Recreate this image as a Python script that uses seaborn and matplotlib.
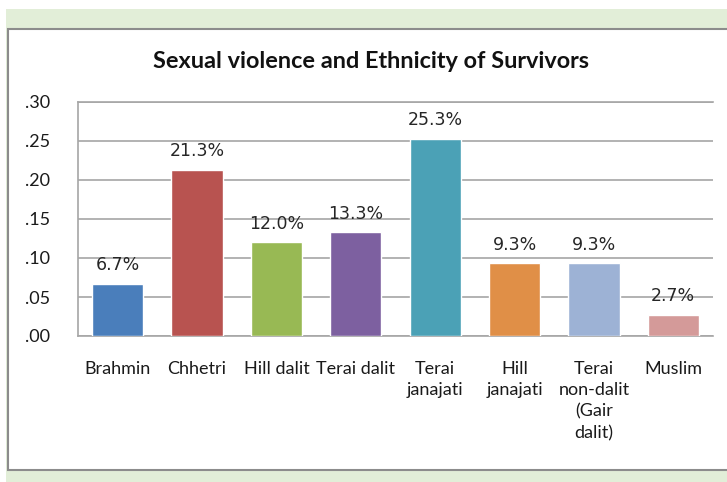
import matplotlib
matplotlib.use("Agg")
import matplotlib.pyplot as plt
import seaborn as sns
import pandas as pd
from matplotlib.patches import Rectangle

categories = ["Brahmin", "Chhetri", "Hill dalit", "Terai dalit",
              "Terai\njanajati", "Hill\njanajati",
              "Terai\nnon-dalit\n(Gair\ndalit)", "Muslim"]
shares = [0.067, 0.213, 0.120, 0.133, 0.253, 0.093, 0.093, 0.027]
bar_colors = ["#4a7ebb", "#b85350", "#98b954", "#7d60a0",
              "#4ba1b6", "#e08f47", "#9db2d5", "#d49a99"]
y_ticks = [0.00, 0.05, 0.10, 0.15, 0.20, 0.25, 0.30]
title = "Sexual violence and Ethnicity of Survivors"

df = pd.DataFrame({"group": categories, "share": shares})

sns.set_style("white")
plt.rcParams["font.family"] = ["Lato", "DejaVu Sans"]

fig = plt.figure(figsize=(7.27, 4.82), dpi=100)
W, H = 727, 482

# page backdrop and chart frame
fig.patches.append(Rectangle((6 / W, 0), 1 - 6 / W, 1 - 9 / H,
                             transform=fig.transFigure, facecolor="#e2eed8",
                             edgecolor="none", zorder=-3))
fig.patches.append(Rectangle((7.5 / W, 12 / H), 1.0, (470 - 28.5) / H,
                             transform=fig.transFigure, facecolor="white",
                             edgecolor="#8c8c8c", linewidth=1.5, zorder=-2))

ax = fig.add_axes([78 / W, 1 - 336 / H, (713 - 78) / W, (336 - 102) / H])
ax.set_facecolor("none")

sns.barplot(data=df, x="group", y="share", hue="group", palette=bar_colors,
            order=categories, hue_order=categories, width=0.645,
            legend=False, ax=ax, saturation=1, zorder=3)

ax.set_ylim(0, 0.30)
ax.set_yticks(y_ticks)
ax.set_yticklabels([f"{t:.2f}".lstrip("0") for t in y_ticks], fontsize=13,
                   color="#1a1a1a")
ax.tick_params(axis="y", length=0, pad=20)
ax.tick_params(axis="x", length=0, pad=18)
for lbl in ax.get_xticklabels():
    lbl.set_fontsize(13)
    lbl.set_color("#1a1a1a")
    lbl.set_verticalalignment("top")
    lbl.set_linespacing(1.4)
ax.set_xlabel("")
ax.set_ylabel("")
ax.grid(axis="y", color="#a6a6a6", linewidth=1.2, zorder=0)
ax.set_axisbelow(True)
for side in ["left", "top", "right", "bottom"]:
    ax.spines[side].set_color("#a6a6a6")
    ax.spines[side].set_linewidth(1.2)
ax.spines["right"].set_visible(False)

for i, v in enumerate(shares):
    ax.annotate(f"{v * 100:.1f}%", (i, v), xytext=(0, 7),
                textcoords="offset points", ha="center", va="bottom",
                fontsize=12.5, color="#262626", family="DejaVu Sans")

fig.text(371 / W, 1 - 61 / H, title, ha="center", va="center",
         fontsize=16.9, fontweight="bold", color="#111111")

fig.savefig("out.png", dpi=100)
